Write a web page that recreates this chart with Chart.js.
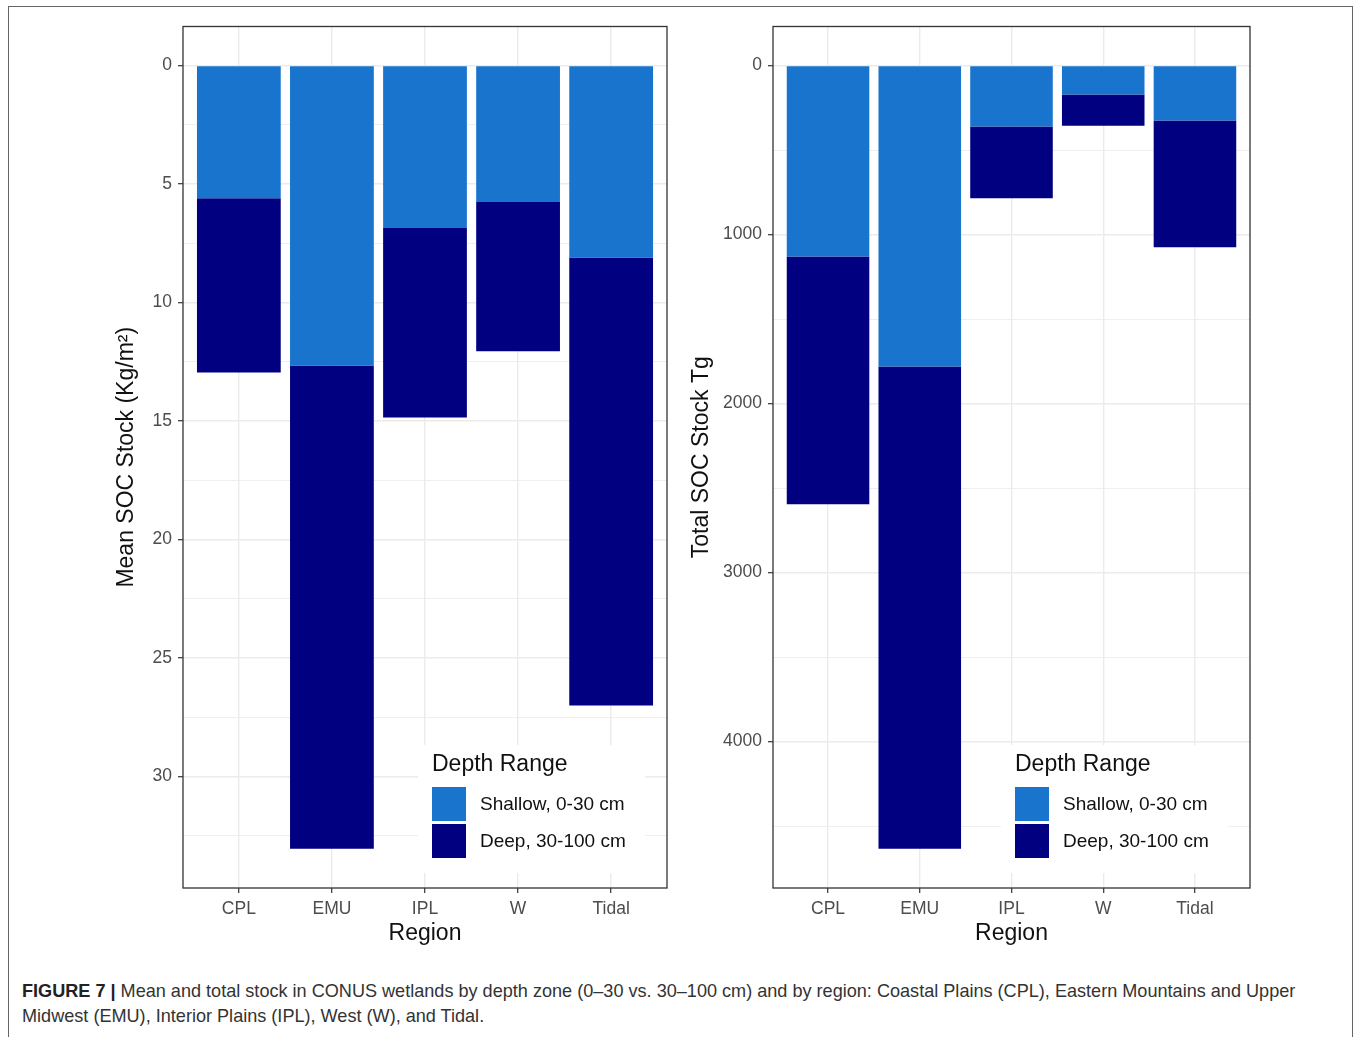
<!DOCTYPE html>
<html>
<head>
<meta charset="utf-8">
<script src="https://cdn.jsdelivr.net/npm/chart.js@4.4.0/dist/chart.umd.min.js"></script>
<style>
  body { margin: 0; background: #fff; font-family: "Liberation Sans", Arial, sans-serif; }
  #frame { position: absolute; left: 8px; top: 6px; width: 1345px; height: 1100px; border: 1.5px solid #666; box-sizing: border-box; }
  .panel { position: absolute; top: 10px; height: 940px; }
  #left { left: 100px; width: 575px; }
  #right { left: 680px; width: 578px; }
  #caption { position: absolute; left: 22px; top: 979px; width: 1330px; font-size: 18.1px; line-height: 25px; color: #333; white-space: nowrap; }
  #caption b { color: #222; }
</style>
</head>
<body>
<div id="frame"></div>
<div class="panel" id="left"><canvas id="meanChart"></canvas></div>
<div class="panel" id="right"><canvas id="totalChart"></canvas></div>
<div id="caption"><b>FIGURE 7 |</b> Mean and total stock in CONUS wetlands by depth zone (0–30 vs. 30–100 cm) and by region: Coastal Plains (CPL), Eastern Mountains and Upper<br>Midwest (EMU), Interior Plains (IPL), West (W), and Tidal.</div>
<script>
// values
const regions = ['CPL', 'EMU', 'IPL', 'W', 'Tidal'];
const depthLabels = ['Shallow, 0-30 cm', 'Deep, 30-100 cm'];

const meanShallow = [5.6, 12.65, 6.85, 5.75, 8.1];
const meanDeep = [7.35, 20.4, 8.0, 6.3, 18.9];
const meanTicks = [0, 5, 10, 15, 20, 25, 30];

const totalShallow = [1130, 1780, 360, 170, 325];
const totalDeep = [1465, 2855, 425, 185, 750];
const totalTicks = [0, 1000, 2000, 3000, 4000];

const colShallow = '#1874CD';
const colDeep = '#000080';

// draws the ggplot-style legend inside the panel and the panel border
const panelExtras = {
    id: 'panelExtras',
    afterDatasetsDraw(chart) {
        const ctx = chart.ctx;
        const a = chart.chartArea;
        ctx.save();
        ctx.fillStyle = '#fff';
        ctx.fillRect(a.right - 249, a.bottom - 143, 227, 128);
        ctx.fillStyle = '#111';
        ctx.font = '23px "Liberation Sans", Arial, sans-serif';
        ctx.textBaseline = 'middle';
        ctx.textAlign = 'left';
        ctx.fillText('Depth Range', a.right - 235, a.bottom - 123);
        const cols = [colShallow, colDeep];
        ctx.font = '19px "Liberation Sans", Arial, sans-serif';
        for (let i = 0; i < 2; i++) {
            const y = a.bottom - 101 + i * 37;
            ctx.fillStyle = cols[i];
            ctx.fillRect(a.right - 235, y, 34, 34);
            ctx.fillStyle = '#111';
            ctx.fillText(depthLabels[i], a.right - 187, y + 18);
        }
        ctx.restore();
    },
    afterDraw(chart) {
        const ctx = chart.ctx;
        const a = chart.chartArea;
        ctx.save();
        ctx.strokeStyle = '#333';
        ctx.lineWidth = 1.3;
        ctx.strokeRect(a.left, a.top, a.right - a.left, a.bottom - a.top);
        ctx.restore();
    }
};

function makeChart(id, shallow, deep, ticks, yTitle, yWidth, titlePad) {
    const step = ticks[1] - ticks[0];
    const allTicks = [];
    for (let v = 0; v < ticks[ticks.length - 1] + step; v += step / 2) allTicks.push(v);
    const top = Math.max(...shallow.map((v, i) => v + deep[i]));
    const isMajor = v => ticks.includes(v);

    new Chart(document.getElementById(id), {
        type: 'bar',
        data: {
            datasets: [
                { label: depthLabels[0], data: shallow.map((v, i) => ({ x: i, y: v })), backgroundColor: colShallow },
                { label: depthLabels[1], data: deep.map((v, i) => ({ x: i, y: v })), backgroundColor: colDeep }
            ]
        },
        options: {
            responsive: true,
            maintainAspectRatio: false,
            animation: false,
            events: [],
            layout: { padding: { top: 7, right: 8, bottom: 0, left: 0 } },
            datasets: { bar: { categoryPercentage: 1, barPercentage: 0.9 } },
            plugins: { legend: { display: false }, tooltip: { enabled: false } },
            scales: {
                x: {
                    type: 'linear',
                    stacked: true,
                    min: -0.6,
                    max: regions.length - 0.4,
                    offset: false,
                    afterBuildTicks: axis => { axis.ticks = regions.map((r, i) => ({ value: i })); },
                    afterFit: axis => { axis.height = 62; },
                    border: { display: false },
                    grid: { offset: false, color: '#EBEBEB', lineWidth: 1.4, tickColor: '#333', tickLength: 5, tickWidth: 1.2 },
                    ticks: {
                        autoSkip: false, maxRotation: 0, padding: 6,
                        color: '#4D4D4D', font: { family: '"Liberation Sans", Arial, sans-serif', size: 17.5 },
                        callback: v => regions[v]
                    },
                    title: {
                        display: true, text: 'Region', color: '#111', padding: { top: 0, bottom: 3 },
                        font: { family: '"Liberation Sans", Arial, sans-serif', size: 23 }
                    }
                },
                y: {
                    stacked: true,
                    reverse: true,
                    min: -0.05 * top,
                    max: top * 1.05,
                    afterBuildTicks: axis => { axis.ticks = allTicks.map(v => ({ value: v })); },
                    afterFit: axis => { axis.width = yWidth; },
                    border: { display: false },
                    grid: {
                        color: '#EBEBEB',
                        lineWidth: c => (c.tick && isMajor(c.tick.value)) ? 1.4 : 0.8,
                        tickColor: c => (c.tick && isMajor(c.tick.value)) ? '#333' : 'rgba(0,0,0,0)',
                        tickLength: 5, tickWidth: 1.2
                    },
                    ticks: {
                        autoSkip: false, padding: 6,
                        color: '#4D4D4D', font: { family: '"Liberation Sans", Arial, sans-serif', size: 17.5 },
                        callback: v => isMajor(v) ? String(v) : ''
                    },
                    title: {
                        display: true, text: yTitle, color: '#111', padding: { top: titlePad, bottom: 0 },
                        font: { family: '"Liberation Sans", Arial, sans-serif', size: 23 }
                    }
                }
            }
        },
        plugins: [panelExtras]
    });
}

makeChart('meanChart', meanShallow, meanDeep, meanTicks, 'Mean SOC Stock (Kg/m²)', 83, 13);
makeChart('totalChart', totalShallow, totalDeep, totalTicks, 'Total SOC Stock Tg', 93, 8);
</script>
</body>
</html>
